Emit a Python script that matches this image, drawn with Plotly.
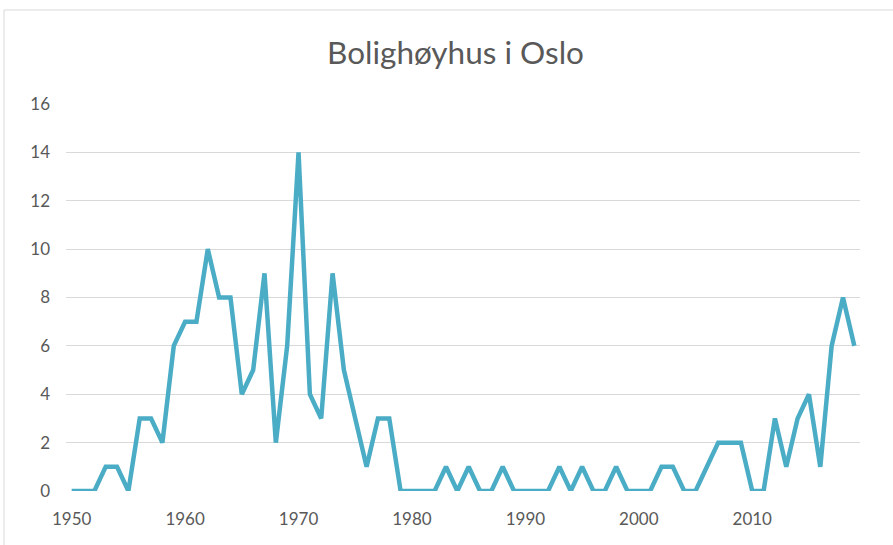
import plotly.graph_objects as go

years = list(range(1950, 2020))
values = [0, 0, 0, 1, 1, 0, 3, 3, 2, 6,
          7, 7, 10, 8, 8, 4, 5, 9, 2, 6,
          14, 4, 3, 9, 5, 3, 1, 3, 3, 0,
          0, 0, 0, 1, 0, 1, 0, 0, 1, 0,
          0, 0, 0, 1, 0, 1, 0, 0, 1, 0,
          0, 0, 1, 1, 0, 0, 1, 2, 2, 2,
          0, 0, 3, 1, 3, 4, 1, 6, 8, 6]
x_ticks = [1950, 1960, 1970, 1980, 1990, 2000, 2010]
y_ticks = [0, 2, 4, 6, 8, 10, 12, 14, 16]
title = "Bolighøyhus i Oslo"

FONT = "Lato, 'Open Sans', sans-serif"
GRAY = "#595959"

fig = go.Figure(go.Scatter(
    x=years, y=values, mode="lines",
    line=dict(color="#4BACC6", width=4.5),
    hoverinfo="x+y", showlegend=False,
))

fig.update_layout(
    width=893, height=545,
    margin=dict(l=66, r=33, t=104, b=54),
    paper_bgcolor="white", plot_bgcolor="white",
    title=dict(text=title, x=455.5 / 893, xref="container", xanchor="center",
               y=1 - 53 / 545, yanchor="middle",
               font=dict(family=FONT, size=31.5, color=GRAY)),
    xaxis=dict(range=[1949.5, 2019.5], tickvals=x_ticks, showgrid=False,
               zeroline=False, showline=False, ticks="",
               ticklabelstandoff=16,
               tickfont=dict(family=FONT, size=17, color=GRAY)),
    yaxis=dict(range=[0, 16], tickvals=y_ticks, showgrid=True,
               gridcolor="#D9D9D9", gridwidth=1, zeroline=False,
               showline=False, ticks="", ticklabelstandoff=15,
               tickfont=dict(family=FONT, size=17, color=GRAY)),
    shapes=[dict(type="rect", xref="paper", yref="paper",
                 x0=(4 - 66) / 794, x1=1.2, y0=-0.3, y1=(491 - 10) / 387,
                 line=dict(color="#D9D9D9", width=1), layer="below")],
)

fig.write_html("out.html", config={"displayModeBar": False},
               post_script="document.body.style.margin='0';")
